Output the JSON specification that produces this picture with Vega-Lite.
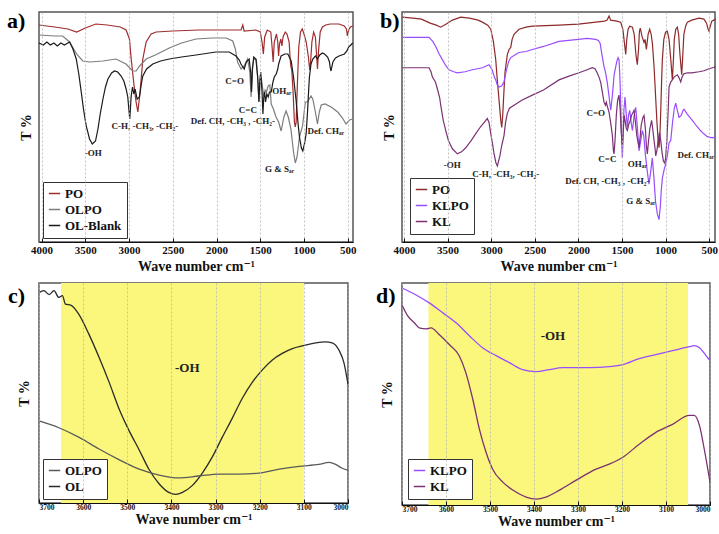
{
"$schema":"https://vega.github.io/schema/vega-lite/v6.json",
"padding":{"left":6,"top":9,"right":2,"bottom":2},
"config":{
 "font":"'Liberation Serif', 'DejaVu Serif', serif",
 "view":{"stroke":"#555","strokeWidth":1.5},
 "axis":{"labelFont":"'Liberation Serif', 'DejaVu Serif', serif","titleFont":"'Liberation Serif', 'DejaVu Serif', serif","labelFontWeight":"bold","titleFontWeight":"bold","labelColor":"#111","titleColor":"#111","domainColor":"#111","gridColor":"#b5b5b5","gridDash":[2,2],"gridWidth":0.8,"tickColor":"#111","tickSize":-4},
 "legend":{"orient":"bottom-left","offset":5,"fillColor":"white","strokeColor":"#333","padding":5,"labelFont":"'Liberation Serif', 'DejaVu Serif', serif","labelFontWeight":"bold","labelFontSize":13,"labelColor":"#111","symbolType":"stroke","symbolStrokeWidth":1.5,"symbolSize":130,"rowPadding":2,"title":null},
 "title":{"font":"'Liberation Serif', 'DejaVu Serif', serif","fontWeight":"bold","fontSize":22,"color":"#000","orient":"top","anchor":"start","frame":"group","offset":-21}
},
"datasets":{
"a":[
{"s":"PO","w":4030,"t":217},{"s":"PO","w":3850,"t":215},{"s":"PO","w":3700,"t":213},{"s":"PO","w":3600,"t":210},{"s":"PO","w":3500,"t":214},{"s":"PO","w":3380,"t":218},{"s":"PO","w":3250,"t":217},{"s":"PO","w":3100,"t":215},{"s":"PO","w":3034,"t":212},{"s":"PO","w":2996,"t":203},{"s":"PO","w":2976,"t":183},{"s":"PO","w":2939,"t":153},{"s":"PO","w":2920,"t":140},{"s":"PO","w":2900,"t":130},{"s":"PO","w":2874,"t":150},{"s":"PO","w":2843,"t":183},{"s":"PO","w":2805,"t":200},{"s":"PO","w":2748,"t":208},{"s":"PO","w":2691,"t":210},{"s":"PO","w":2500,"t":211},{"s":"PO","w":2200,"t":212},{"s":"PO","w":2000,"t":212},{"s":"PO","w":1800,"t":212},{"s":"PO","w":1720,"t":212},{"s":"PO","w":1700,"t":217},{"s":"PO","w":1685,"t":211},{"s":"PO","w":1550,"t":212},{"s":"PO","w":1500,"t":210},{"s":"PO","w":1480,"t":200},{"s":"PO","w":1465,"t":188},{"s":"PO","w":1450,"t":205},{"s":"PO","w":1420,"t":212},{"s":"PO","w":1380,"t":210},{"s":"PO","w":1365,"t":195},{"s":"PO","w":1353,"t":180},{"s":"PO","w":1340,"t":200},{"s":"PO","w":1315,"t":208},{"s":"PO","w":1300,"t":200},{"s":"PO","w":1291,"t":186},{"s":"PO","w":1280,"t":198},{"s":"PO","w":1265,"t":203},{"s":"PO","w":1253,"t":196},{"s":"PO","w":1240,"t":205},{"s":"PO","w":1215,"t":210},{"s":"PO","w":1195,"t":208},{"s":"PO","w":1170,"t":200},{"s":"PO","w":1160,"t":185},{"s":"PO","w":1151,"t":176},{"s":"PO","w":1140,"t":172},{"s":"PO","w":1125,"t":150},{"s":"PO","w":1110,"t":120},{"s":"PO","w":1100,"t":115},{"s":"PO","w":1090,"t":120},{"s":"PO","w":1075,"t":160},{"s":"PO","w":1060,"t":195},{"s":"PO","w":1040,"t":210},{"s":"PO","w":1020,"t":213},{"s":"PO","w":1000,"t":208},{"s":"PO","w":975,"t":200},{"s":"PO","w":950,"t":185},{"s":"PO","w":935,"t":172},{"s":"PO","w":925,"t":180},{"s":"PO","w":910,"t":200},{"s":"PO","w":890,"t":210},{"s":"PO","w":870,"t":205},{"s":"PO","w":855,"t":185},{"s":"PO","w":846,"t":173},{"s":"PO","w":835,"t":190},{"s":"PO","w":815,"t":210},{"s":"PO","w":790,"t":215},{"s":"PO","w":752,"t":217},{"s":"PO","w":700,"t":218},{"s":"PO","w":600,"t":218},{"s":"PO","w":540,"t":216},{"s":"PO","w":515,"t":213},{"s":"PO","w":504,"t":206},{"s":"PO","w":490,"t":212},{"s":"PO","w":470,"t":215},{"s":"PO","w":443,"t":216},
{"s":"OLPO","w":4030,"t":207},{"s":"OLPO","w":3850,"t":206},{"s":"OLPO","w":3760,"t":206},{"s":"OLPO","w":3680,"t":200},{"s":"OLPO","w":3600,"t":188},{"s":"OLPO","w":3530,"t":181},{"s":"OLPO","w":3450,"t":180},{"s":"OLPO","w":3300,"t":181},{"s":"OLPO","w":3150,"t":183},{"s":"OLPO","w":3035,"t":178},{"s":"OLPO","w":2960,"t":171},{"s":"OLPO","w":2920,"t":171},{"s":"OLPO","w":2880,"t":176},{"s":"OLPO","w":2805,"t":183},{"s":"OLPO","w":2700,"t":187},{"s":"OLPO","w":2540,"t":194},{"s":"OLPO","w":2400,"t":199},{"s":"OLPO","w":2235,"t":203},{"s":"OLPO","w":2050,"t":204},{"s":"OLPO","w":1890,"t":204},{"s":"OLPO","w":1815,"t":201},{"s":"OLPO","w":1785,"t":193},{"s":"OLPO","w":1760,"t":180},{"s":"OLPO","w":1720,"t":173},{"s":"OLPO","w":1685,"t":176},{"s":"OLPO","w":1645,"t":183},{"s":"OLPO","w":1620,"t":170},{"s":"OLPO","w":1605,"t":145},{"s":"OLPO","w":1590,"t":175},{"s":"OLPO","w":1575,"t":183},{"s":"OLPO","w":1545,"t":182},{"s":"OLPO","w":1530,"t":165},{"s":"OLPO","w":1515,"t":141},{"s":"OLPO","w":1500,"t":160},{"s":"OLPO","w":1490,"t":165},{"s":"OLPO","w":1475,"t":155},{"s":"OLPO","w":1460,"t":146},{"s":"OLPO","w":1445,"t":152},{"s":"OLPO","w":1430,"t":150},{"s":"OLPO","w":1410,"t":156},{"s":"OLPO","w":1390,"t":157},{"s":"OLPO","w":1375,"t":138},{"s":"OLPO","w":1350,"t":133},{"s":"OLPO","w":1320,"t":125},{"s":"OLPO","w":1290,"t":120},{"s":"OLPO","w":1262,"t":111},{"s":"OLPO","w":1230,"t":125},{"s":"OLPO","w":1205,"t":131},{"s":"OLPO","w":1180,"t":125},{"s":"OLPO","w":1150,"t":113},{"s":"OLPO","w":1120,"t":90},{"s":"OLPO","w":1100,"t":79},{"s":"OLPO","w":1080,"t":85},{"s":"OLPO","w":1052,"t":105},{"s":"OLPO","w":1017,"t":116},{"s":"OLPO","w":985,"t":140},{"s":"OLPO","w":960,"t":140},{"s":"OLPO","w":920,"t":146},{"s":"OLPO","w":900,"t":143},{"s":"OLPO","w":870,"t":130},{"s":"OLPO","w":846,"t":118},{"s":"OLPO","w":825,"t":130},{"s":"OLPO","w":803,"t":137},{"s":"OLPO","w":760,"t":138},{"s":"OLPO","w":690,"t":135},{"s":"OLPO","w":615,"t":130},{"s":"OLPO","w":560,"t":124},{"s":"OLPO","w":520,"t":118},{"s":"OLPO","w":480,"t":122},{"s":"OLPO","w":443,"t":123},
{"s":"OL-Blank","w":4030,"t":199},{"s":"OL-Blank","w":3980,"t":197},{"s":"OL-Blank","w":3940,"t":200},{"s":"OL-Blank","w":3900,"t":197},{"s":"OL-Blank","w":3860,"t":199},{"s":"OL-Blank","w":3820,"t":196},{"s":"OL-Blank","w":3780,"t":199},{"s":"OL-Blank","w":3740,"t":197},{"s":"OL-Blank","w":3700,"t":199},{"s":"OL-Blank","w":3680,"t":200},{"s":"OL-Blank","w":3642,"t":193},{"s":"OL-Blank","w":3604,"t":183},{"s":"OL-Blank","w":3575,"t":168},{"s":"OL-Blank","w":3547,"t":150},{"s":"OL-Blank","w":3520,"t":132},{"s":"OL-Blank","w":3490,"t":116},{"s":"OL-Blank","w":3452,"t":103},{"s":"OL-Blank","w":3421,"t":98},{"s":"OL-Blank","w":3384,"t":101},{"s":"OL-Blank","w":3356,"t":113},{"s":"OL-Blank","w":3330,"t":128},{"s":"OL-Blank","w":3299,"t":143},{"s":"OL-Blank","w":3270,"t":155},{"s":"OL-Blank","w":3242,"t":163},{"s":"OL-Blank","w":3200,"t":169},{"s":"OL-Blank","w":3167,"t":171},{"s":"OL-Blank","w":3130,"t":170},{"s":"OL-Blank","w":3091,"t":166},{"s":"OL-Blank","w":3060,"t":161},{"s":"OL-Blank","w":3034,"t":153},{"s":"OL-Blank","w":3015,"t":145},{"s":"OL-Blank","w":3003,"t":133},{"s":"OL-Blank","w":2992,"t":123},{"s":"OL-Blank","w":2976,"t":146},{"s":"OL-Blank","w":2961,"t":155},{"s":"OL-Blank","w":2946,"t":148},{"s":"OL-Blank","w":2931,"t":153},{"s":"OL-Blank","w":2908,"t":143},{"s":"OL-Blank","w":2882,"t":145},{"s":"OL-Blank","w":2860,"t":158},{"s":"OL-Blank","w":2843,"t":166},{"s":"OL-Blank","w":2800,"t":173},{"s":"OL-Blank","w":2729,"t":178},{"s":"OL-Blank","w":2640,"t":181},{"s":"OL-Blank","w":2540,"t":183},{"s":"OL-Blank","w":2400,"t":185},{"s":"OL-Blank","w":2235,"t":187},{"s":"OL-Blank","w":2007,"t":190},{"s":"OL-Blank","w":1855,"t":190},{"s":"OL-Blank","w":1778,"t":186},{"s":"OL-Blank","w":1740,"t":182},{"s":"OL-Blank","w":1721,"t":178},{"s":"OL-Blank","w":1684,"t":173},{"s":"OL-Blank","w":1660,"t":180},{"s":"OL-Blank","w":1627,"t":183},{"s":"OL-Blank","w":1610,"t":170},{"s":"OL-Blank","w":1600,"t":150},{"s":"OL-Blank","w":1590,"t":172},{"s":"OL-Blank","w":1575,"t":185},{"s":"OL-Blank","w":1550,"t":183},{"s":"OL-Blank","w":1530,"t":165},{"s":"OL-Blank","w":1516,"t":140},{"s":"OL-Blank","w":1505,"t":162},{"s":"OL-Blank","w":1495,"t":170},{"s":"OL-Blank","w":1480,"t":150},{"s":"OL-Blank","w":1470,"t":128},{"s":"OL-Blank","w":1460,"t":145},{"s":"OL-Blank","w":1450,"t":150},{"s":"OL-Blank","w":1440,"t":140},{"s":"OL-Blank","w":1425,"t":148},{"s":"OL-Blank","w":1410,"t":145},{"s":"OL-Blank","w":1395,"t":150},{"s":"OL-Blank","w":1375,"t":150},{"s":"OL-Blank","w":1355,"t":160},{"s":"OL-Blank","w":1340,"t":165},{"s":"OL-Blank","w":1318,"t":168},{"s":"OL-Blank","w":1300,"t":173},{"s":"OL-Blank","w":1290,"t":178},{"s":"OL-Blank","w":1262,"t":186},{"s":"OL-Blank","w":1220,"t":188},{"s":"OL-Blank","w":1185,"t":188},{"s":"OL-Blank","w":1147,"t":181},{"s":"OL-Blank","w":1120,"t":165},{"s":"OL-Blank","w":1090,"t":141},{"s":"OL-Blank","w":1070,"t":120},{"s":"OL-Blank","w":1052,"t":105},{"s":"OL-Blank","w":1030,"t":94},{"s":"OL-Blank","w":1014,"t":91},{"s":"OL-Blank","w":995,"t":98},{"s":"OL-Blank","w":976,"t":108},{"s":"OL-Blank","w":960,"t":130},{"s":"OL-Blank","w":945,"t":155},{"s":"OL-Blank","w":938,"t":165},{"s":"OL-Blank","w":920,"t":178},{"s":"OL-Blank","w":900,"t":183},{"s":"OL-Blank","w":870,"t":186},{"s":"OL-Blank","w":846,"t":183},{"s":"OL-Blank","w":820,"t":187},{"s":"OL-Blank","w":790,"t":189},{"s":"OL-Blank","w":766,"t":188},{"s":"OL-Blank","w":730,"t":185},{"s":"OL-Blank","w":709,"t":180},{"s":"OL-Blank","w":700,"t":174},{"s":"OL-Blank","w":691,"t":171},{"s":"OL-Blank","w":680,"t":176},{"s":"OL-Blank","w":670,"t":180},{"s":"OL-Blank","w":640,"t":184},{"s":"OL-Blank","w":600,"t":186},{"s":"OL-Blank","w":538,"t":188},{"s":"OL-Blank","w":510,"t":191},{"s":"OL-Blank","w":490,"t":195},{"s":"OL-Blank","w":465,"t":197},{"s":"OL-Blank","w":443,"t":199}
],
"b":[
{"s":"PO","w":4020,"t":222},{"s":"PO","w":3900,"t":221},{"s":"PO","w":3800,"t":220},{"s":"PO","w":3700,"t":216},{"s":"PO","w":3630,"t":214},{"s":"PO","w":3579,"t":212},{"s":"PO","w":3520,"t":215},{"s":"PO","w":3445,"t":219},{"s":"PO","w":3349,"t":222},{"s":"PO","w":3250,"t":221},{"s":"PO","w":3150,"t":219},{"s":"PO","w":3101,"t":217},{"s":"PO","w":3040,"t":214},{"s":"PO","w":3005,"t":210},{"s":"PO","w":2975,"t":198},{"s":"PO","w":2948,"t":180},{"s":"PO","w":2930,"t":160},{"s":"PO","w":2910,"t":140},{"s":"PO","w":2890,"t":120},{"s":"PO","w":2879,"t":113},{"s":"PO","w":2868,"t":125},{"s":"PO","w":2853,"t":150},{"s":"PO","w":2841,"t":168},{"s":"PO","w":2815,"t":185},{"s":"PO","w":2795,"t":190},{"s":"PO","w":2776,"t":192},{"s":"PO","w":2760,"t":200},{"s":"PO","w":2738,"t":205},{"s":"PO","w":2681,"t":210},{"s":"PO","w":2600,"t":212},{"s":"PO","w":2528,"t":213},{"s":"PO","w":2222,"t":214},{"s":"PO","w":2000,"t":215},{"s":"PO","w":1800,"t":217},{"s":"PO","w":1700,"t":218},{"s":"PO","w":1670,"t":219},{"s":"PO","w":1648,"t":223},{"s":"PO","w":1630,"t":219},{"s":"PO","w":1560,"t":218},{"s":"PO","w":1515,"t":217},{"s":"PO","w":1490,"t":210},{"s":"PO","w":1470,"t":195},{"s":"PO","w":1457,"t":185},{"s":"PO","w":1445,"t":200},{"s":"PO","w":1430,"t":210},{"s":"PO","w":1411,"t":213},{"s":"PO","w":1380,"t":212},{"s":"PO","w":1360,"t":205},{"s":"PO","w":1340,"t":185},{"s":"PO","w":1324,"t":175},{"s":"PO","w":1310,"t":190},{"s":"PO","w":1300,"t":208},{"s":"PO","w":1290,"t":211},{"s":"PO","w":1270,"t":203},{"s":"PO","w":1247,"t":197},{"s":"PO","w":1235,"t":200},{"s":"PO","w":1220,"t":190},{"s":"PO","w":1200,"t":205},{"s":"PO","w":1182,"t":210},{"s":"PO","w":1165,"t":205},{"s":"PO","w":1150,"t":195},{"s":"PO","w":1132,"t":173},{"s":"PO","w":1115,"t":145},{"s":"PO","w":1100,"t":120},{"s":"PO","w":1085,"t":100},{"s":"PO","w":1075,"t":93},{"s":"PO","w":1065,"t":105},{"s":"PO","w":1055,"t":130},{"s":"PO","w":1045,"t":160},{"s":"PO","w":1037,"t":180},{"s":"PO","w":1020,"t":200},{"s":"PO","w":1000,"t":207},{"s":"PO","w":980,"t":208},{"s":"PO","w":960,"t":200},{"s":"PO","w":940,"t":180},{"s":"PO","w":922,"t":160},{"s":"PO","w":910,"t":180},{"s":"PO","w":900,"t":200},{"s":"PO","w":883,"t":210},{"s":"PO","w":865,"t":212},{"s":"PO","w":850,"t":205},{"s":"PO","w":835,"t":185},{"s":"PO","w":815,"t":165},{"s":"PO","w":805,"t":180},{"s":"PO","w":790,"t":205},{"s":"PO","w":770,"t":213},{"s":"PO","w":750,"t":217},{"s":"PO","w":700,"t":219},{"s":"PO","w":616,"t":221},{"s":"PO","w":560,"t":220},{"s":"PO","w":530,"t":216},{"s":"PO","w":512,"t":210},{"s":"PO","w":501,"t":208},{"s":"PO","w":490,"t":212},{"s":"PO","w":470,"t":218},{"s":"PO","w":424,"t":220},
{"s":"KLPO","w":4020,"t":202},{"s":"KLPO","w":3850,"t":202},{"s":"KLPO","w":3713,"t":202},{"s":"KLPO","w":3670,"t":198},{"s":"KLPO","w":3636,"t":193},{"s":"KLPO","w":3600,"t":186},{"s":"KLPO","w":3560,"t":180},{"s":"KLPO","w":3520,"t":174},{"s":"KLPO","w":3484,"t":170},{"s":"KLPO","w":3430,"t":168},{"s":"KLPO","w":3388,"t":167},{"s":"KLPO","w":3300,"t":168},{"s":"KLPO","w":3216,"t":170},{"s":"KLPO","w":3100,"t":172},{"s":"KLPO","w":3025,"t":175},{"s":"KLPO","w":2990,"t":170},{"s":"KLPO","w":2960,"t":162},{"s":"KLPO","w":2948,"t":160},{"s":"KLPO","w":2930,"t":155},{"s":"KLPO","w":2910,"t":153},{"s":"KLPO","w":2880,"t":154},{"s":"KLPO","w":2853,"t":158},{"s":"KLPO","w":2830,"t":168},{"s":"KLPO","w":2800,"t":178},{"s":"KLPO","w":2776,"t":182},{"s":"KLPO","w":2720,"t":185},{"s":"KLPO","w":2681,"t":187},{"s":"KLPO","w":2600,"t":188},{"s":"KLPO","w":2528,"t":190},{"s":"KLPO","w":2400,"t":193},{"s":"KLPO","w":2222,"t":198},{"s":"KLPO","w":2000,"t":200},{"s":"KLPO","w":1900,"t":201},{"s":"KLPO","w":1801,"t":200},{"s":"KLPO","w":1770,"t":199},{"s":"KLPO","w":1750,"t":196},{"s":"KLPO","w":1730,"t":185},{"s":"KLPO","w":1706,"t":173},{"s":"KLPO","w":1690,"t":168},{"s":"KLPO","w":1668,"t":157},{"s":"KLPO","w":1650,"t":145},{"s":"KLPO","w":1629,"t":130},{"s":"KLPO","w":1610,"t":145},{"s":"KLPO","w":1590,"t":165},{"s":"KLPO","w":1560,"t":178},{"s":"KLPO","w":1545,"t":182},{"s":"KLPO","w":1534,"t":180},{"s":"KLPO","w":1525,"t":165},{"s":"KLPO","w":1515,"t":140},{"s":"KLPO","w":1505,"t":105},{"s":"KLPO","w":1496,"t":83},{"s":"KLPO","w":1488,"t":100},{"s":"KLPO","w":1478,"t":130},{"s":"KLPO","w":1465,"t":143},{"s":"KLPO","w":1450,"t":125},{"s":"KLPO","w":1438,"t":113},{"s":"KLPO","w":1425,"t":125},{"s":"KLPO","w":1411,"t":130},{"s":"KLPO","w":1395,"t":118},{"s":"KLPO","w":1380,"t":110},{"s":"KLPO","w":1360,"t":125},{"s":"KLPO","w":1342,"t":133},{"s":"KLPO","w":1325,"t":115},{"s":"KLPO","w":1304,"t":90},{"s":"KLPO","w":1285,"t":100},{"s":"KLPO","w":1266,"t":110},{"s":"KLPO","w":1250,"t":105},{"s":"KLPO","w":1230,"t":85},{"s":"KLPO","w":1210,"t":70},{"s":"KLPO","w":1190,"t":57},{"s":"KLPO","w":1170,"t":70},{"s":"KLPO","w":1152,"t":83},{"s":"KLPO","w":1135,"t":65},{"s":"KLPO","w":1115,"t":40},{"s":"KLPO","w":1095,"t":28},{"s":"KLPO","w":1075,"t":22},{"s":"KLPO","w":1060,"t":35},{"s":"KLPO","w":1050,"t":50},{"s":"KLPO","w":1037,"t":63},{"s":"KLPO","w":1015,"t":72},{"s":"KLPO","w":998,"t":77},{"s":"KLPO","w":980,"t":85},{"s":"KLPO","w":960,"t":98},{"s":"KLPO","w":941,"t":100},{"s":"KLPO","w":920,"t":118},{"s":"KLPO","w":900,"t":132},{"s":"KLPO","w":883,"t":137},{"s":"KLPO","w":865,"t":130},{"s":"KLPO","w":845,"t":123},{"s":"KLPO","w":820,"t":125},{"s":"KLPO","w":800,"t":130},{"s":"KLPO","w":788,"t":131},{"s":"KLPO","w":750,"t":126},{"s":"KLPO","w":693,"t":120},{"s":"KLPO","w":640,"t":114},{"s":"KLPO","w":600,"t":110},{"s":"KLPO","w":565,"t":107},{"s":"KLPO","w":520,"t":104},{"s":"KLPO","w":480,"t":103},{"s":"KLPO","w":424,"t":103},
{"s":"KL","w":4020,"t":172},{"s":"KL","w":3850,"t":172},{"s":"KL","w":3713,"t":172},{"s":"KL","w":3690,"t":168},{"s":"KL","w":3675,"t":163},{"s":"KL","w":3640,"t":158},{"s":"KL","w":3620,"t":152},{"s":"KL","w":3590,"t":142},{"s":"KL","w":3579,"t":135},{"s":"KL","w":3550,"t":120},{"s":"KL","w":3521,"t":110},{"s":"KL","w":3490,"t":100},{"s":"KL","w":3445,"t":92},{"s":"KL","w":3388,"t":87},{"s":"KL","w":3340,"t":89},{"s":"KL","w":3292,"t":93},{"s":"KL","w":3230,"t":100},{"s":"KL","w":3177,"t":107},{"s":"KL","w":3120,"t":114},{"s":"KL","w":3062,"t":120},{"s":"KL","w":3045,"t":122},{"s":"KL","w":3025,"t":118},{"s":"KL","w":3005,"t":107},{"s":"KL","w":2985,"t":97},{"s":"KL","w":2967,"t":87},{"s":"KL","w":2945,"t":78},{"s":"KL","w":2929,"t":75},{"s":"KL","w":2915,"t":80},{"s":"KL","w":2900,"t":85},{"s":"KL","w":2880,"t":95},{"s":"KL","w":2853,"t":105},{"s":"KL","w":2835,"t":118},{"s":"KL","w":2815,"t":127},{"s":"KL","w":2790,"t":132},{"s":"KL","w":2738,"t":135},{"s":"KL","w":2650,"t":140},{"s":"KL","w":2528,"t":145},{"s":"KL","w":2400,"t":150},{"s":"KL","w":2222,"t":160},{"s":"KL","w":2100,"t":164},{"s":"KL","w":1992,"t":167},{"s":"KL","w":1900,"t":170},{"s":"KL","w":1840,"t":172},{"s":"KL","w":1810,"t":171},{"s":"KL","w":1790,"t":168},{"s":"KL","w":1760,"t":162},{"s":"KL","w":1743,"t":157},{"s":"KL","w":1725,"t":148},{"s":"KL","w":1706,"t":138},{"s":"KL","w":1690,"t":135},{"s":"KL","w":1680,"t":138},{"s":"KL","w":1665,"t":133},{"s":"KL","w":1648,"t":128},{"s":"KL","w":1630,"t":118},{"s":"KL","w":1610,"t":105},{"s":"KL","w":1598,"t":90},{"s":"KL","w":1591,"t":87},{"s":"KL","w":1580,"t":100},{"s":"KL","w":1565,"t":125},{"s":"KL","w":1550,"t":140},{"s":"KL","w":1534,"t":145},{"s":"KL","w":1520,"t":130},{"s":"KL","w":1510,"t":110},{"s":"KL","w":1496,"t":96},{"s":"KL","w":1485,"t":110},{"s":"KL","w":1475,"t":125},{"s":"KL","w":1465,"t":120},{"s":"KL","w":1450,"t":112},{"s":"KL","w":1438,"t":110},{"s":"KL","w":1420,"t":117},{"s":"KL","w":1411,"t":118},{"s":"KL","w":1390,"t":125},{"s":"KL","w":1362,"t":130},{"s":"KL","w":1345,"t":118},{"s":"KL","w":1330,"t":105},{"s":"KL","w":1304,"t":93},{"s":"KL","w":1290,"t":105},{"s":"KL","w":1280,"t":115},{"s":"KL","w":1260,"t":123},{"s":"KL","w":1247,"t":125},{"s":"KL","w":1230,"t":110},{"s":"KL","w":1220,"t":95},{"s":"KL","w":1209,"t":87},{"s":"KL","w":1195,"t":100},{"s":"KL","w":1180,"t":112},{"s":"KL","w":1160,"t":120},{"s":"KL","w":1145,"t":110},{"s":"KL","w":1132,"t":100},{"s":"KL","w":1120,"t":92},{"s":"KL","w":1113,"t":85},{"s":"KL","w":1100,"t":90},{"s":"KL","w":1085,"t":100},{"s":"KL","w":1070,"t":108},{"s":"KL","w":1055,"t":100},{"s":"KL","w":1040,"t":88},{"s":"KL","w":1025,"t":80},{"s":"KL","w":1010,"t":78},{"s":"KL","w":1000,"t":82},{"s":"KL","w":985,"t":100},{"s":"KL","w":970,"t":130},{"s":"KL","w":960,"t":153},{"s":"KL","w":940,"t":158},{"s":"KL","w":922,"t":160},{"s":"KL","w":900,"t":163},{"s":"KL","w":865,"t":165},{"s":"KL","w":845,"t":162},{"s":"KL","w":826,"t":158},{"s":"KL","w":810,"t":163},{"s":"KL","w":790,"t":166},{"s":"KL","w":750,"t":167},{"s":"KL","w":700,"t":167},{"s":"KL","w":616,"t":168},{"s":"KL","w":560,"t":169},{"s":"KL","w":500,"t":171},{"s":"KL","w":424,"t":173}
],
"c":[
{"s":"OL","w":3700,"t":210},{"s":"OL","w":3689,"t":212},{"s":"OL","w":3677,"t":208},{"s":"OL","w":3666,"t":212},{"s":"OL","w":3655,"t":205},{"s":"OL","w":3647,"t":207},{"s":"OL","w":3640,"t":198},{"s":"OL","w":3628,"t":197},{"s":"OL","w":3609,"t":187},{"s":"OL","w":3587,"t":167},{"s":"OL","w":3564,"t":143},{"s":"OL","w":3541,"t":117},{"s":"OL","w":3519,"t":90},{"s":"OL","w":3496,"t":67},{"s":"OL","w":3473,"t":47},{"s":"OL","w":3451,"t":27},{"s":"OL","w":3428,"t":12},{"s":"OL","w":3406,"t":3},{"s":"OL","w":3390,"t":1},{"s":"OL","w":3375,"t":3},{"s":"OL","w":3353,"t":10},{"s":"OL","w":3330,"t":23},{"s":"OL","w":3307,"t":40},{"s":"OL","w":3285,"t":60},{"s":"OL","w":3262,"t":80},{"s":"OL","w":3240,"t":100},{"s":"OL","w":3217,"t":117},{"s":"OL","w":3194,"t":130},{"s":"OL","w":3172,"t":140},{"s":"OL","w":3149,"t":147},{"s":"OL","w":3126,"t":152},{"s":"OL","w":3101,"t":155},{"s":"OL","w":3073,"t":158},{"s":"OL","w":3051,"t":159},{"s":"OL","w":3036,"t":158},{"s":"OL","w":3020,"t":150},{"s":"OL","w":3009,"t":137},{"s":"OL","w":3000,"t":115},
{"s":"OLPO","w":3700,"t":77},{"s":"OLPO","w":3655,"t":70},{"s":"OLPO","w":3609,"t":60},{"s":"OLPO","w":3564,"t":48},{"s":"OLPO","w":3519,"t":37},{"s":"OLPO","w":3473,"t":27},{"s":"OLPO","w":3428,"t":21},{"s":"OLPO","w":3383,"t":18},{"s":"OLPO","w":3338,"t":20},{"s":"OLPO","w":3292,"t":22},{"s":"OLPO","w":3247,"t":22},{"s":"OLPO","w":3202,"t":23},{"s":"OLPO","w":3156,"t":27},{"s":"OLPO","w":3111,"t":30},{"s":"OLPO","w":3066,"t":32},{"s":"OLPO","w":3043,"t":34},{"s":"OLPO","w":3028,"t":32},{"s":"OLPO","w":3013,"t":28},{"s":"OLPO","w":3000,"t":26}
],
"d":[
{"s":"KLPO","w":3700,"t":218},{"s":"KLPO","w":3668,"t":211},{"s":"KLPO","w":3638,"t":203},{"s":"KLPO","w":3607,"t":193},{"s":"KLPO","w":3577,"t":183},{"s":"KLPO","w":3547,"t":170},{"s":"KLPO","w":3517,"t":158},{"s":"KLPO","w":3486,"t":150},{"s":"KLPO","w":3456,"t":143},{"s":"KLPO","w":3426,"t":136},{"s":"KLPO","w":3395,"t":134},{"s":"KLPO","w":3365,"t":136},{"s":"KLPO","w":3335,"t":138},{"s":"KLPO","w":3304,"t":138},{"s":"KLPO","w":3274,"t":138},{"s":"KLPO","w":3229,"t":139},{"s":"KLPO","w":3198,"t":141},{"s":"KLPO","w":3161,"t":147},{"s":"KLPO","w":3123,"t":151},{"s":"KLPO","w":3085,"t":155},{"s":"KLPO","w":3047,"t":159},{"s":"KLPO","w":3036,"t":160},{"s":"KLPO","w":3024,"t":158},{"s":"KLPO","w":3009,"t":150},{"s":"KLPO","w":3000,"t":145},
{"s":"KL","w":3700,"t":201},{"s":"KL","w":3687,"t":190},{"s":"KL","w":3672,"t":183},{"s":"KL","w":3661,"t":178},{"s":"KL","w":3645,"t":177},{"s":"KL","w":3634,"t":178},{"s":"KL","w":3615,"t":171},{"s":"KL","w":3592,"t":161},{"s":"KL","w":3570,"t":150},{"s":"KL","w":3555,"t":133},{"s":"KL","w":3539,"t":106},{"s":"KL","w":3524,"t":76},{"s":"KL","w":3509,"t":53},{"s":"KL","w":3494,"t":36},{"s":"KL","w":3471,"t":23},{"s":"KL","w":3448,"t":15},{"s":"KL","w":3418,"t":8},{"s":"KL","w":3395,"t":6},{"s":"KL","w":3373,"t":8},{"s":"KL","w":3342,"t":15},{"s":"KL","w":3304,"t":25},{"s":"KL","w":3259,"t":36},{"s":"KL","w":3229,"t":41},{"s":"KL","w":3198,"t":48},{"s":"KL","w":3161,"t":61},{"s":"KL","w":3123,"t":73},{"s":"KL","w":3085,"t":81},{"s":"KL","w":3047,"t":90},{"s":"KL","w":3036,"t":90},{"s":"KL","w":3024,"t":80},{"s":"KL","w":3013,"t":56},{"s":"KL","w":3000,"t":23}
],
"na":[
{"l":"-OH","w":3410,"t":89},{"l":"C-H, -CH₃, -CH₂-","w":2820,"t":116},{"l":"C=O","w":1793,"t":161},{"l":"C=C","w":1642,"t":132},{"l":"OHₐᵣ","w":1254,"t":151},{"l":"Def. CH, -CH₃ , -CH₂-","w":1813,"t":121},{"l":"G & Sₐᵣ","w":1280,"t":73},{"l":"Def. CHₐᵣ","w":752,"t":111}
],
"nb":[
{"l":"-OH","w":3446,"t":76},{"l":"C-H, -CH₃, -CH₂-","w":2833,"t":67},{"l":"C=O","w":1801,"t":127},{"l":"C=C","w":1668,"t":82},{"l":"OHₐᵣ","w":1324,"t":77},{"l":"Def. CH, -CH₃ , -CH₂-","w":1668,"t":60},{"l":"G & Sₐᵣ","w":1285,"t":40},{"l":"Def. CHₐᵣ","w":654,"t":86}
],
"nc":[{"l":"-OH","w":3364,"t":132}],
"nd":[{"l":"-OH","w":3357,"t":170}],
"yc":[{"w1":3650,"w2":3100}],
"yd":[{"w1":3640,"w2":3050}]
},
"resolve":{"scale":{"color":"independent","x":"independent","y":"independent"},"legend":{"color":"independent"}},
"spacing":8,
"vconcat":[
{"hconcat":[
 {"width":314,"height":230,"title":{"text":"a)","dx":-32},
  "layer":[
   {"data":{"name":"a"},"mark":{"type":"line","strokeWidth":1.2},
    "encoding":{
     "x":{"field":"w","type":"quantitative","scale":{"domain":[4030,440],"nice":false,"zero":false},
      "axis":{"title":"Wave number cm⁻¹","values":[4000,3750,3500,3250,3000,2750,2500,2250,2000,1750,1500,1250,1000,750,500],"labelExpr":"datum.value % 500 === 0 ? datum.label : ''","format":"d","grid":true,"ticks":true,"labelFontSize":11,"titleFontSize":14,"labelPadding":6,"titlePadding":4,"zindex":1}},
     "y":{"field":"t","type":"quantitative","scale":{"domain":[0,230],"nice":false},"axis":{"title":"T %","labels":false,"ticks":false,"grid":false,"domain":false,"titleFontSize":14,"titlePadding":6}},
     "color":{"field":"s","type":"nominal","scale":{"domain":["PO","OLPO","OL-Blank"],"range":["#a02c2e","#7d7d7d","#1a1a1a"]},"legend":{"offset":4}}}},
   {"data":{"name":"na"},"mark":{"type":"text","fontSize":9,"fontWeight":"bold","color":"#222"},
    "encoding":{"x":{"field":"w","type":"quantitative"},"y":{"field":"t","type":"quantitative"},"text":{"field":"l"}}}
  ]},
 {"width":313,"height":230,"title":{"text":"b)","dx":-22},
  "layer":[
   {"data":{"name":"b"},"mark":{"type":"line","strokeWidth":1.2},
    "encoding":{
     "x":{"field":"w","type":"quantitative","scale":{"domain":[4023,433],"nice":false,"zero":false},
      "axis":{"title":"Wave number cm⁻¹","values":[4000,3750,3500,3250,3000,2750,2500,2250,2000,1750,1500,1250,1000,750,500],"labelExpr":"datum.value % 500 === 0 ? datum.label : ''","format":"d","grid":true,"ticks":true,"labelFontSize":11,"titleFontSize":14,"labelPadding":6,"titlePadding":4,"zindex":1}},
     "y":{"field":"t","type":"quantitative","scale":{"domain":[0,227],"nice":false},"axis":{"title":"T %","labels":false,"ticks":false,"grid":false,"domain":false,"titleFontSize":14,"titlePadding":6}},
     "color":{"field":"s","type":"nominal","scale":{"domain":["PO","KLPO","KL"],"range":["#8e2a2c","#9a4cff","#7b3173"]},"legend":{"offset":8}}}},
   {"data":{"name":"nb"},"mark":{"type":"text","fontSize":9,"fontWeight":"bold","color":"#222"},
    "encoding":{"x":{"field":"w","type":"quantitative"},"y":{"field":"t","type":"quantitative"},"text":{"field":"l"}}}
  ]}
 ],"spacing":22,
 "resolve":{"scale":{"color":"independent","x":"independent","y":"independent"},"legend":{"color":"independent"}}},
{"hconcat":[
 {"width":309,"height":220,"title":{"text":"c)","dx":-31,"offset":-25},
  "layer":[
   {"data":{"name":"yc"},"mark":{"type":"rect","color":"#faf77c"},
    "encoding":{"x":{"field":"w1","type":"quantitative"},"x2":{"field":"w2"}}},
   {"data":{"name":"c"},"mark":{"type":"line","strokeWidth":1.3,"interpolate":"monotone"},
    "encoding":{
     "x":{"field":"w","type":"quantitative","scale":{"domain":[3700,3000],"nice":false,"zero":false},
      "axis":{"title":"Wave number cm⁻¹","values":[3700,3650,3600,3550,3500,3450,3400,3350,3300,3250,3200,3150,3100,3050,3000],"format":"d","grid":true,"ticks":true,"labelFontSize":7.5,"titleFontSize":14,"labelPadding":4,"titlePadding":2,"zindex":1}},
     "y":{"field":"t","type":"quantitative","scale":{"domain":[-8,220],"nice":false},"axis":{"title":"T %","labels":false,"ticks":false,"grid":false,"domain":false,"titleFontSize":14,"titlePadding":8}},
     "color":{"field":"s","type":"nominal","scale":{"domain":["OLPO","OL"],"range":["#5a5a5a","#2a2a2a"]},"legend":{"offset":4}}}},
   {"data":{"name":"nc"},"mark":{"type":"text","fontSize":13,"fontWeight":"bold","color":"#222"},
    "encoding":{"x":{"field":"w","type":"quantitative"},"y":{"field":"t","type":"quantitative"},"text":{"field":"l"}}}
  ]},
 {"width":308,"height":222,"title":{"text":"d)","dx":-26,"offset":-25},
  "layer":[
   {"data":{"name":"yd"},"mark":{"type":"rect","color":"#faf77c"},
    "encoding":{"x":{"field":"w1","type":"quantitative"},"x2":{"field":"w2"}}},
   {"data":{"name":"d"},"mark":{"type":"line","strokeWidth":1.3,"interpolate":"monotone"},
    "encoding":{
     "x":{"field":"w","type":"quantitative","scale":{"domain":[3700,3000],"nice":false,"zero":false},
      "axis":{"title":"Wave number cm⁻¹","values":[3700,3650,3600,3550,3500,3450,3400,3350,3300,3250,3200,3150,3100,3050,3000],"format":"d","grid":true,"ticks":true,"labelFontSize":7.5,"titleFontSize":14,"labelPadding":4,"titlePadding":2,"zindex":1}},
     "y":{"field":"t","type":"quantitative","scale":{"domain":[0,223],"nice":false},"axis":{"title":"T %","labels":false,"ticks":false,"grid":false,"domain":false,"titleFontSize":14,"titlePadding":8}},
     "color":{"field":"s","type":"nominal","scale":{"domain":["KLPO","KL"],"range":["#9a4cff","#7b3173"]},"legend":{"offset":6}}}},
   {"data":{"name":"nd"},"mark":{"type":"text","fontSize":13,"fontWeight":"bold","color":"#222"},
    "encoding":{"x":{"field":"w","type":"quantitative"},"y":{"field":"t","type":"quantitative"},"text":{"field":"l"}}}
  ]}
 ],"spacing":23,
 "resolve":{"scale":{"color":"independent","x":"independent","y":"independent"},"legend":{"color":"independent"}}}
]
}
